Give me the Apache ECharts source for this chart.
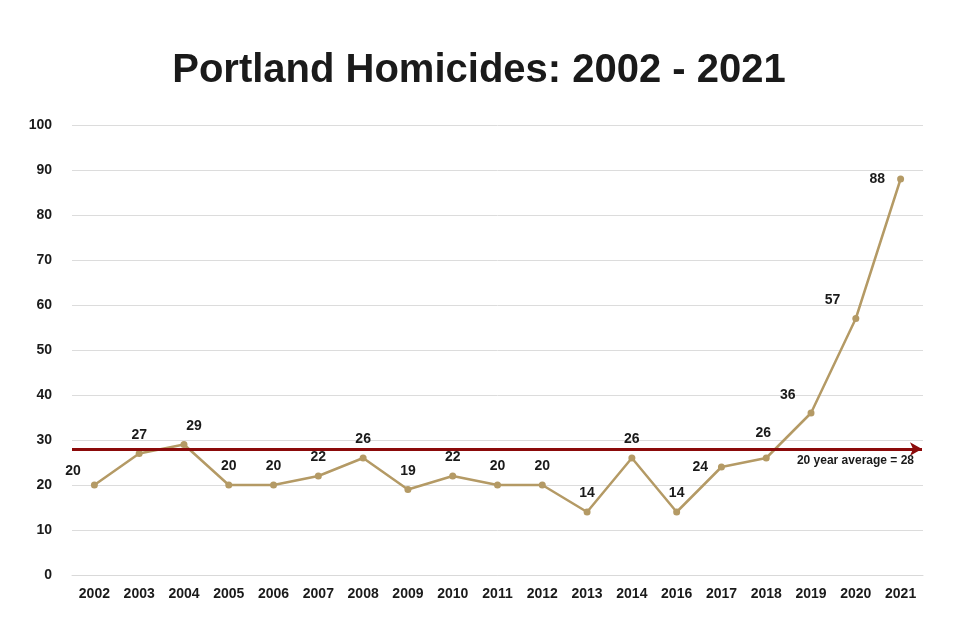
<!DOCTYPE html>
<html><head><meta charset="utf-8">
<script src="https://cdn.jsdelivr.net/npm/echarts@6/dist/echarts.min.js"></script>
<style>html,body{margin:0;background:#fff}#c{width:958px;height:644px}</style>
</head><body><div id="c"></div>
<script>
const years = ['2002','2003','2004','2005','2006','2007','2008','2009','2010','2011','2012','2013','2014','2016','2017','2018','2019','2020','2021'];
const homicides = [20,27,29,20,20,22,26,19,22,20,20,14,26,14,24,26,36,57,88];
const labelPos = ['left','top','top','top','top','top','top','top','top','top','top','top','top','top','left','top','left','left','left'];
const labelOffset = [[-2,-14],[0,0],[10,0],[0,0],[0,0],[0,0],[0,0],[0,0],[0,0],[0,0],[0,0],[0,0],[0,0],[0,0],[-2,0],[-3,-6],[-4,-18],[-4,-18],[-4,0]];
const average = 28;
const chart = echarts.init(document.getElementById('c'));
chart.setOption({
  animation:false,
  textStyle:{fontFamily:'Liberation Sans, Arial, sans-serif'},
  title:{text:'Portland Homicides: 2002 - 2021',left:'center',top:46,
    textStyle:{fontSize:40,fontWeight:'bold',color:'#1a1a1a'}},
  grid:{left:72,right:35,top:125,bottom:69},
  xAxis:{type:'category',data:years,boundaryGap:true,
    axisLine:{lineStyle:{color:'#d9d9d9'}},axisTick:{show:false},
    axisLabel:{color:'#1a1a1a',fontWeight:'bold',fontSize:14,margin:12}},
  yAxis:{type:'value',min:0,max:100,interval:10,
    axisLabel:{color:'#1a1a1a',fontWeight:'bold',fontSize:14,margin:20},
    splitLine:{lineStyle:{color:'#dcdcdc'}},axisLine:{show:false}},
  series:[{type:'line',z:2,
    data:homicides.map((v,i)=>({value:v,label:{position:labelPos[i],offset:labelOffset[i]}})),
    symbol:'circle',symbolSize:7,
    lineStyle:{color:'#B49A65',width:2.5},itemStyle:{color:'#B49A65'},
    label:{show:true,color:'#1a1a1a',fontWeight:'bold',fontSize:14,distance:8},
    markLine:{silent:true,symbol:['none','arrow'],symbolSize:[10,12],z:5,
      lineStyle:{color:'#8B0A0A',width:3,type:'solid'},
      data:[[{coord:[0,average],x:72},{coord:[18,average],x:922}]],
      label:{show:true,formatter:'20 year average = '+average,position:'insideEndBottom',
        color:'#1a1a1a',fontWeight:'bold',fontSize:12,distance:[8,6]}}
  }]
});
</script></body></html>
